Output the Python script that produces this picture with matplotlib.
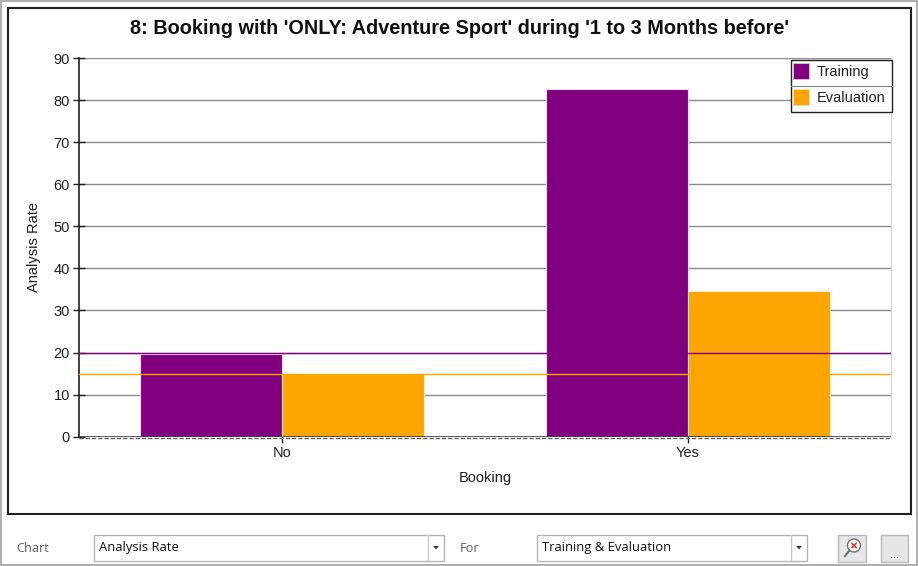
import matplotlib
matplotlib.use("Agg")
import matplotlib.pyplot as plt
from matplotlib.patches import Rectangle, Ellipse
from matplotlib.lines import Line2D
import numpy as np

categories = ["No", "Yes"]
training = [19.7, 82.6]
evaluation = [14.8, 34.7]
training_ref = 20.0
evaluation_ref = 14.9
series_names = ["Training", "Evaluation"]
yticks = [0, 10, 20, 30, 40, 50, 60, 70, 80, 90]

PURPLE = "#800080"
ORANGE = "#FFA500"

W, H = 918, 566
fig = plt.figure(figsize=(W / 100, H / 100), dpi=100)
plt.rcParams["font.family"] = ["Liberation Sans", "DejaVu Sans"]


def fx(x):
    return x / W


def fy(y):
    return 1 - y / H


def frect(x0, y0, x1, y1, **kw):
    r = Rectangle((fx(x0), fy(y1)), fx(x1) - fx(x0), fy(y0) - fy(y1),
                  transform=fig.transFigure, **kw)
    fig.add_artist(r)
    return r


def fline(xs, ys, **kw):
    l = Line2D([fx(v) for v in xs], [fy(v) for v in ys], transform=fig.transFigure, **kw)
    fig.add_artist(l)
    return l


# window background
frect(0, 0, W, H, facecolor="#ffffff", edgecolor="none", zorder=-10)
frect(0.5, 0.5, W - 1, H - 1, facecolor="none", edgecolor="#a0a0a0", lw=1.2, zorder=5)
# chart frame
frect(8, 8, 911, 514, facecolor="white", edgecolor="#202020", lw=1.5, zorder=-5)

# axes
L, R, T, B = 79, 891, 58, 436.7
ax = fig.add_axes([fx(L), fy(B), fx(R) - fx(L), fy(T) - fy(B)])
ax.set_facecolor("white")

x = np.arange(len(categories))
w = 0.35
ax.bar(x - w / 2, training, w, color=PURPLE, edgecolor="#e8dce8", linewidth=0.8, zorder=3)
ax.bar(x + w / 2, evaluation, w, color=ORANGE, edgecolor="#f4ecd8", linewidth=0.8, zorder=3)
ax.axhline(training_ref, color=PURPLE, lw=1.0, zorder=4)
ax.axhline(evaluation_ref, color=ORANGE, lw=1.0, zorder=4)

ax.set_xlim(-0.5, 1.5)
ax.set_ylim(0, 90)
ax.set_yticks(yticks)
ax.set_xticks(x)
ax.set_xticklabels(categories)
for t in yticks[1:]:
    ax.axhline(t, color="#8c8c8c", lw=1.0, zorder=1)
ax.axhline(0, color="#404040", lw=1.2, zorder=5)
ax.axhline(-0.35, color="#606060", lw=1.0, ls=(0, (3, 1.5)), zorder=5, clip_on=False)

for s in ["top", "bottom"]:
    ax.spines[s].set_visible(False)
ax.spines["right"].set_color("#d8d8d8")
ax.spines["left"].set_color("#202020")
ax.spines["left"].set_linewidth(1.2)
ax.tick_params(axis="both", direction="inout", length=9, width=1, colors="#202020",
               labelsize=10.5, labelcolor="#202020")
ax.tick_params(axis="x", pad=2)
ax.tick_params(axis="y", pad=2)

ax.set_ylabel("Analysis Rate", fontsize=10.5, color="#202020", labelpad=9)
ax.set_xlabel("Booking", fontsize=10.5, color="#202020", labelpad=8)
fig.text(fx(460), fy(29), "8: Booking with 'ONLY: Adventure Sport' during '1 to 3 Months before'",
         ha="center", va="center", fontsize=14.3, fontweight="bold", color="#101010")

# legend
frect(790.5, 59.5, 892, 112, facecolor="white", edgecolor="#202020", lw=1.0, zorder=6)
fline([790.5, 892], [85.5, 85.5], color="#808080", lw=0.8, zorder=7)
frect(793, 62.5, 809, 78.5, facecolor=PURPLE, edgecolor="#d8c8d8", lw=0.6, zorder=7)
frect(793, 89, 809, 105, facecolor=ORANGE, edgecolor="#f0e0c0", lw=0.6, zorder=7)
fig.text(fx(817), fy(72), series_names[0], ha="left", va="center", fontsize=10.5, color="#202020", zorder=8)
fig.text(fx(817), fy(98), series_names[1], ha="left", va="center", fontsize=10.5, color="#202020", zorder=8)

# bottom UI
ui_font = ["Open Sans", "DejaVu Sans"]
fig.text(fx(16), fy(548), "Chart", ha="left", va="center", fontsize=9.2, color="#606060", family=ui_font)
fig.text(fx(460), fy(548), "For", ha="left", va="center", fontsize=9.2, color="#606060", family=ui_font)


def combo(x0, x1, sep, label):
    frect(x0, 534.5, x1, 560.5, facecolor="white", edgecolor="#b4b4b4", lw=1.0)
    fline([sep, sep], [535, 560], color="#c8c8c8", lw=1.0)
    fig.text(fx(x0 + 5), fy(547.5), label, ha="left", va="center", fontsize=9.4,
             color="#101010", family=ui_font)
    cx = (sep + x1) / 2
    tri = plt.Polygon([[fx(cx - 3), fy(546)], [fx(cx + 3), fy(546)], [fx(cx), fy(549.5)]],
                      closed=True, transform=fig.transFigure, facecolor="#404040", edgecolor="none")
    fig.add_artist(tri)


combo(94, 444, 428, "Analysis Rate")
combo(537, 807, 791, "Training & Evaluation")

frect(838, 535, 866, 562, facecolor="#e6e6e6", edgecolor="#b8b8b8", lw=1.0)
frect(881, 535, 908, 562, facecolor="#e6e6e6", edgecolor="#b8b8b8", lw=1.0)
fig.text(fx(894.5), fy(555), "...", ha="center", va="center", fontsize=8, color="#303030")
# magnifier icon
circ = Ellipse((fx(854), fy(545.5)), 13 / W, 13 / H, transform=fig.transFigure,
               facecolor="white", edgecolor="#707070", lw=1.0)
fig.add_artist(circ)
fline([849.5, 845], [550.5, 556], color="#707070", lw=1.5)
fline([852, 856], [543.5, 547.5], color="#e03030", lw=1.2)
fline([852, 856], [547.5, 543.5], color="#e03030", lw=1.2)

fig.savefig("out.png", dpi=100)
